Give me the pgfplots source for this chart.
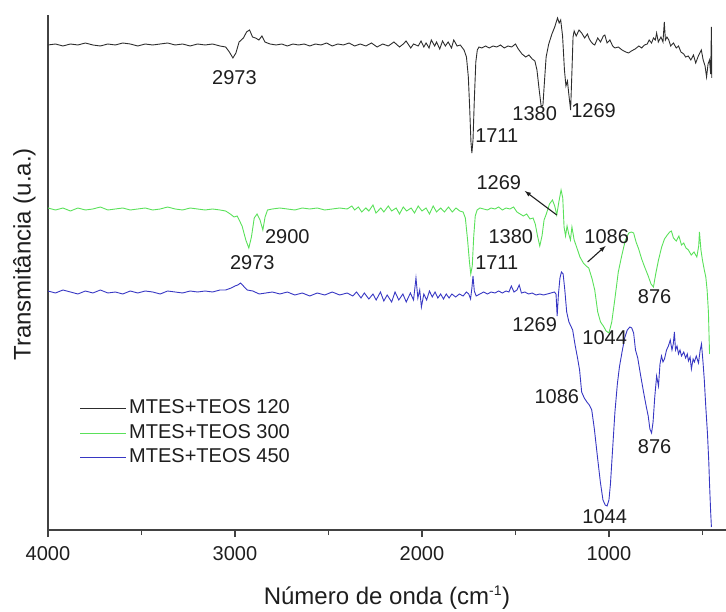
\documentclass[border=0pt]{standalone}
\usepackage{pgfplots}
\pgfplotsset{compat=1.18}
\usepackage{fontspec}
\setmainfont{Liberation Sans}
\definecolor{cblack}{RGB}{45,45,45}
\definecolor{cgreen}{RGB}{90,225,90}
\definecolor{cblue}{RGB}{55,55,195}
\definecolor{ctext}{RGB}{30,30,30}
\newcommand\fa{\fontsize{20bp}{24bp}\selectfont}
\newcommand\fb{\fontsize{24bp}{28bp}\selectfont}
\begin{document}
\begin{tikzpicture}
\path[use as bounding box] (0,0) rectangle (726bp,612bp);
\begin{axis}[
  at={(48bp,82bp)}, anchor=south west,
  scale only axis, width=678bp, height=515bp,
  x dir=reverse, xmin=374, xmax=4000, ymin=82, ymax=597,
  axis x line=bottom, axis y line=left,
  axis line style={-, line width=1.2bp, draw=cblack!90},
  xtick={1000,2000,3000,4000}, minor xtick={500,1500,2500,3500},
  ytick=\empty,
  tick align=outside, major tick length=7bp, minor tick length=5bp,
  tick style={line width=1.2bp, draw=cblack!90},
  /pgf/number format/assume math mode=true,
  /pgf/number format/1000 sep={},
  xticklabel style={font=\fa, text=ctext, yshift=-6bp},
  xlabel={Número de onda (cm\textsuperscript{\fontsize{14bp}{16bp}\selectfont-1})},
  ylabel={Transmitância (u.a.)},
  xlabel style={font=\fb, text=ctext, at={(axis description cs:0.5,-0.132)}, anchor=center},
  ylabel style={font=\fb, text=ctext, at={(axis description cs:-0.035,0.535)}, anchor=center, rotate=0},
  legend cell align=left,
  legend style={draw=none, fill=none, font=\fa, text=ctext, at={(axis description cs:0.0465,0.259)}, anchor=north west, inner sep=0pt, row sep=0.5bp,
    nodes={inner xsep=2.5bp, inner ysep=2bp, text height=15bp, text depth=5bp}},
  legend image code/.code={\draw[#1, line width=1bp] (0bp,0bp) -- (46bp,0bp);},
  every axis plot/.append style={line width=0.9bp},
  clip=false,
]
\addplot[cblack] coordinates {
(4000,567) (3960,568) (3920,566) (3880,568) (3840,567) (3800,569) (3760,567) (3720,566) (3680,568) (3640,567)
(3600,569) (3560,568) (3520,566) (3480,568) (3440,567) (3400,568) (3360,569) (3320,567) (3280,568) (3240,566)
(3200,568) (3160,567) (3120,568) (3080,566) (3050,565) (3030,560) (3011,554) (2995,559) (2978,570) (2955,574)
(2938,580) (2922,582) (2906,575) (2890,574) (2872,572) (2856,576) (2840,570) (2813,568) (2780,567) (2750,568)
(2720,566) (2690,568) (2660,567) (2630,568) (2600,566) (2570,568) (2540,567) (2510,569) (2480,566) (2450,568)
(2420,567) (2390,569) (2360,566) (2330,568) (2300,566) (2270,569) (2240,565) (2210,568) (2180,566) (2150,570)
(2120,565) (2100,568) (2085,571) (2060,564) (2045,568) (2020,566) (2005,571) (1990,565) (1978,569) (1962,564)
(1950,572) (1932,566) (1922,570) (1905,563) (1890,571) (1875,566) (1860,570) (1842,564) (1830,572) (1812,566) (1795,567)
(1775,562) (1762,555) (1752,535) (1745,505) (1738,470) (1733,459) (1727,472) (1720,512) (1712,550) (1704,562)
(1695,565) (1680,564) (1660,566) (1640,564) (1620,566) (1600,565) (1580,567) (1560,564) (1540,566) (1520,565)
(1500,568) (1485,563) (1465,558) (1445,555) (1428,557) (1410,553) (1396,551) (1385,542) (1373,522) (1362,505)
(1353,507) (1345,530) (1336,555) (1322,568) (1305,578) (1290,585) (1275,594) (1266,589) (1258,592) (1248,576)
(1238,542) (1230,526) (1222,531) (1213,515) (1205,502) (1198,540) (1192,575) (1186,581) (1175,576) (1160,582)
(1146,579) (1130,574) (1115,578) (1105,573) (1095,570) (1085,568) (1076,567) (1060,574) (1045,570) (1030,576)
(1022,577) (1010,569) (995,572) (980,566) (968,564) (950,565) (930,562) (910,560) (895,559) (880,561)
(860,563) (840,566) (825,564) (810,567) (795,568) (785,572) (772,569) (762,574) (752,572) (745,579)
(736,570) (722,575) (711,570) (704,590) (698,572) (690,575) (680,572) (670,566) (655,569) (640,564)
(628,566) (615,560) (600,558) (590,555) (576,556) (562,552) (548,557) (536,549) (522,556) (506,562)
(496,552) (486,546) (478,535) (470,548) (462,552) (456,538) (452,585) (450,534)
};
\addlegendentry{MTES+TEOS 120}
\addplot[cgreen] coordinates {
(4000,404) (3960,402) (3920,404) (3880,401) (3840,404) (3800,402) (3760,403) (3720,405) (3680,402) (3640,403)
(3600,404) (3560,402) (3520,403) (3480,404) (3440,402) (3400,403) (3360,405) (3320,403) (3280,402) (3240,404)
(3200,403) (3160,402) (3120,403) (3080,402) (3050,401) (3025,398) (3005,395) (2988,396) (2962,386) (2942,372)
(2926,364) (2912,375) (2897,394) (2882,398) (2866,392) (2851,382) (2839,395) (2826,402) (2800,403) (2760,404)
(2720,403) (2680,402) (2640,404) (2600,403) (2560,404) (2520,402) (2480,403) (2440,404) (2400,403) (2375,406)
(2360,402) (2340,405) (2322,400) (2300,404) (2284,401) (2262,407) (2246,399) (2220,404) (2204,400) (2180,406)
(2162,401) (2138,404) (2120,398) (2100,405) (2082,401) (2058,404) (2040,399) (2020,406) (2000,401) (1978,404)
(1960,398) (1940,406) (1922,400) (1900,404) (1880,400) (1858,405) (1838,400) (1818,404) (1798,401) (1780,400)
(1768,394) (1756,372) (1746,350) (1739,338) (1731,346) (1723,376) (1715,396) (1705,402) (1690,404) (1670,403)
(1650,402) (1630,404) (1610,403) (1590,405) (1570,402) (1550,404) (1530,403) (1510,405) (1492,400) (1475,398)
(1458,396) (1440,398) (1422,393) (1406,394) (1394,388) (1382,376) (1370,366) (1358,376) (1347,392) (1335,398)
(1318,408) (1302,412) (1290,406) (1279,397) (1268,410) (1256,422) (1247,414) (1240,385) (1232,376) (1224,386)
(1215,378) (1206,372) (1198,385) (1186,372) (1173,365) (1155,355) (1137,349) (1122,346) (1108,344) (1090,333)
(1076,322) (1060,300) (1045,290) (1030,286) (1015,281) (1000,279) (985,290) (969,312) (950,340) (932,356)
(912,372) (894,379) (880,380) (868,379) (855,370) (841,363) (825,353) (809,345) (790,336) (775,328)
(762,325) (750,338) (735,352) (718,365) (703,373) (688,377) (675,380) (666,381) (655,374) (640,371)
(626,376) (612,367) (600,369) (588,364) (575,362) (560,357) (545,360) (530,355) (520,366) (516,380)
(508,362) (500,352) (490,342) (482,335) (475,322) (468,300) (462,258)
};
\addlegendentry{MTES+TEOS 300}
\addplot[cblue] coordinates {
(4000,321) (3960,319) (3920,322) (3880,320) (3840,318) (3800,321) (3760,319) (3720,322) (3680,319) (3640,320)
(3600,318) (3560,321) (3520,319) (3480,321) (3440,320) (3400,318) (3360,321) (3320,320) (3280,319) (3240,321)
(3200,320) (3160,321) (3120,320) (3080,322) (3050,322) (3020,324) (3000,326) (2985,327) (2970,329) (2955,326)
(2935,322) (2905,321) (2870,318) (2835,319) (2800,320) (2760,318) (2720,320) (2680,317) (2640,319) (2600,316)
(2560,319) (2520,317) (2480,320) (2440,317) (2400,319) (2370,316) (2350,320) (2326,314) (2308,319) (2284,313)
(2262,318) (2245,312) (2222,320) (2204,311) (2186,317) (2162,310) (2144,320) (2124,312) (2102,318) (2084,310)
(2062,319) (2045,312) (2032,334) (2022,314) (2012,322) (2003,305) (1990,318) (1975,312) (1960,321) (1945,315)
(1930,320) (1915,314) (1900,318) (1885,313) (1870,318) (1855,314) (1840,318) (1820,315) (1800,318) (1780,316)
(1762,320) (1750,318) (1740,313) (1733,324) (1727,336) (1720,321) (1710,316) (1690,318) (1670,320) (1650,318)
(1630,320) (1610,319) (1590,321) (1570,319) (1550,321) (1535,320) (1522,326) (1508,320) (1492,322) (1480,327)
(1468,319) (1450,320) (1430,318) (1410,319) (1390,317) (1370,318) (1350,317) (1330,318) (1310,319) (1292,320)
(1283,318) (1277,296) (1270,318) (1262,334) (1254,340) (1245,338) (1236,322) (1226,300) (1214,290) (1204,286)
(1194,282) (1182,268) (1168,254) (1157,242) (1146,220) (1132,214) (1118,210) (1105,207) (1092,202) (1078,183)
(1062,156) (1046,130) (1032,112) (1020,107) (1010,106) (1000,112) (992,128) (982,158) (968,200) (955,228)
(944,245) (930,260) (916,274) (902,282) (888,285) (878,284) (868,279) (858,262) (846,254) (830,236)
(815,220) (800,205) (790,196) (781,183) (772,179) (764,190) (755,215) (745,236) (735,226) (727,248)
(719,256) (711,250) (703,253) (692,262) (682,266) (672,272) (663,262) (656,268) (650,280) (644,262)
(636,266) (628,258) (620,262) (612,256) (600,260) (590,254) (581,258) (575,251) (566,255) (559,243)
(550,253) (543,250) (533,256) (521,249) (512,262) (505,268) (497,250) (490,232) (482,205) (473,178)
(466,150) (462,128) (456,100) (452,85)
};
\addlegendentry{MTES+TEOS 450}
% annotations
\begin{scope}[every node/.style={font=\fa, text=ctext, inner sep=0pt}]
\node at (axis cs:3003,534) {2973};
\node at (axis cs:1600,476) {1711};
\node at (axis cs:1397,498) {1380};
\node at (axis cs:1082,501) {1269};
\node at (axis cs:1589,429) {1269};
\node at (axis cs:2720,375) {2900};
\node at (axis cs:2907,349) {2973};
\node at (axis cs:1525,375) {1380};
\node at (axis cs:1600,349) {1711};
\node at (axis cs:1012,375) {1086};
\node at (axis cs:756,315) {876};
\node at (axis cs:1397,287) {1269};
\node at (axis cs:1023,274) {1044};
\node at (axis cs:1279,215) {1086};
\node at (axis cs:756,165) {876};
\node at (axis cs:1023,95) {1044};
\end{scope}
\draw[-latex, line width=1.1bp, ctext] (axis cs:1279,397) -- (axis cs:1450,421);
\draw[-latex, line width=1.1bp, ctext] (axis cs:1114,350) -- (axis cs:1018,366);
\end{axis}
\end{tikzpicture}
\end{document}
